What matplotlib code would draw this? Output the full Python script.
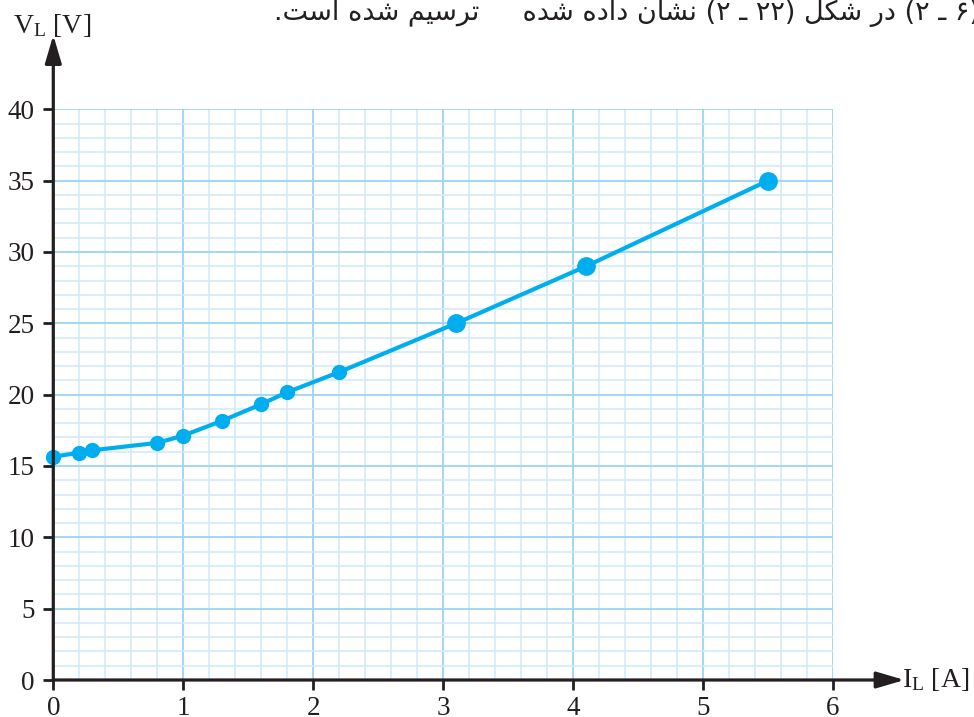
import matplotlib
matplotlib.use("Agg")
import matplotlib.pyplot as plt
from matplotlib.ticker import MultipleLocator

# measured points (I_L in A, V_L in V)
current = [0, 0.2, 0.3, 0.8, 1.0, 1.3, 1.6, 1.8, 2.2, 3.1, 4.1, 5.5]
voltage = [15.65, 15.93, 16.1, 16.62, 17.13, 18.17, 19.33, 20.17, 21.58, 25.0, 29.0, 35.0]
big_point = [False] * 9 + [True] * 3

x_ticks = [0, 1, 2, 3, 4, 5, 6]
y_ticks = [0, 5, 10, 15, 20, 25, 30, 35, 40]

# cropped line of the page above the figure, written in visual order
# with arabic presentation forms (matplotlib does no shaping)
top_text = ("." + "\uFE96\uFEB3\uFE8D" + " " + "\uFEE9\uFEAA\uFEB7" + " "
            + "\uFEE2\uFBFF\uFEB3\uFEAE\uFE97" + "     "
            + "\uFEE9\uFEAA\uFEB7" + " " + "\uFEE9\uFEA9\uFE8D\uFEA9" + " "
            + "\uFEE5\uFE8E\uFEB8\uFEE7" + " (\u06F2 \u0640 \u06F2\u06F2) "
            + "\uFEDE\uFB91\uFEB7" + " " + "\uFEAD\uFEA9" + " (\u06F2 \u0640 \u06F6)")

dark = "#231f20"
blue = "#00aeef"

plt.rcParams["font.family"] = ["Liberation Serif", "DejaVu Serif"]
plt.rcParams["mathtext.fontset"] = "custom"
plt.rcParams["mathtext.rm"] = "Liberation Serif"
plt.rcParams["mathtext.it"] = "Liberation Serif:italic"

W, H = 974, 717
fig = plt.figure(figsize=(W / 100, H / 100), dpi=100)
ax = fig.add_axes([53.3 / W, 37 / H, 779.7 / W, 570.7 / H])

ax.set_xlim(0, 6)
ax.set_ylim(0, 40)
ax.set_xticks(x_ticks)
ax.set_yticks(y_ticks)
ax.xaxis.set_minor_locator(MultipleLocator(0.2))
ax.yaxis.set_minor_locator(MultipleLocator(1))

ax.grid(which="minor", color="#cfeaf8", lw=1.1, zorder=0)
ax.grid(which="major", color="#9ad6f2", lw=1.3, zorder=0)
ax.set_axisbelow(True)

for s in ax.spines.values():
    s.set_visible(False)

ax.tick_params(which="major", direction="out", length=7.2, width=2,
               color=dark, labelsize=19.5, labelcolor=dark)
ax.tick_params(axis="y", which="major", pad=6)
ax.tick_params(axis="x", which="major", pad=4)
ax.tick_params(which="minor", length=0)

# axes drawn as arrows
ax.annotate("", xy=(0, 45.2), xytext=(0, 0),
            arrowprops=dict(arrowstyle="-|>,head_length=0.85,head_width=0.25",
                            mutation_scale=20, lw=2.3, color=dark,
                            shrinkA=0, shrinkB=0),
            annotation_clip=False, zorder=5)
ax.annotate("", xy=(6.55, 0), xytext=(0, 0),
            arrowprops=dict(arrowstyle="-|>,head_length=0.85,head_width=0.25",
                            mutation_scale=20, lw=2.3, color=dark,
                            shrinkA=0, shrinkB=0),
            annotation_clip=False, zorder=5)

ax.plot(current, voltage, color=blue, lw=3, zorder=3, clip_on=False)
small_x = [c for c, b in zip(current, big_point) if not b]
small_y = [v for v, b in zip(voltage, big_point) if not b]
big_x = [c for c, b in zip(current, big_point) if b]
big_y = [v for v, b in zip(voltage, big_point) if b]
ax.plot(small_x, small_y, "o", color=blue, ms=10, zorder=4, clip_on=False)
ax.plot(big_x, big_y, "o", color=blue, ms=12.5, zorder=4, clip_on=False)

fig.text(13 / W, 1 - 33 / H, r"V$_\mathrm{L}$ [V]", fontsize=20,
         color=dark, ha="left", va="baseline")
fig.text(902 / W, 1 - 687 / H, r"I$_\mathrm{L}$ [A]", fontsize=20,
         color=dark, ha="left", va="baseline")

fig.text(980 / W, 1 - 20 / H, top_text, fontsize=19.5, color=dark,
         family=["DejaVu Sans"], ha="right", va="baseline")

fig.savefig("out.png", dpi=100)
